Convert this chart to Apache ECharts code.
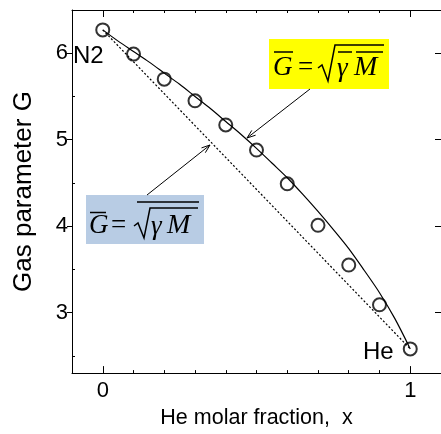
<!DOCTYPE html>
<html>
<head>
<meta charset="utf-8">
<script src="https://cdn.jsdelivr.net/npm/echarts@6/dist/echarts.min.js"></script>
<style>
html,body{margin:0;padding:0;background:#fff;}
#chart{width:441px;height:434px;}
</style>
</head>
<body>
<div id="chart"></div>
<script>
// ---- data ----
const molarFraction = [0, 0.1, 0.2, 0.3, 0.4, 0.5, 0.6, 0.7, 0.8, 0.9, 1.0];
const measuredG = [6.27, 5.99, 5.70, 5.45, 5.17, 4.88, 4.49, 4.01, 3.55, 3.09, 2.58];
const curveX = [0, 0.05, 0.1, 0.15, 0.2, 0.25, 0.3, 0.35, 0.4, 0.45, 0.5, 0.55, 0.6, 0.65, 0.7, 0.75, 0.8, 0.85, 0.9, 0.95, 1.0];
const curveG = [6.27, 6.14, 6.02, 5.90, 5.77, 5.64, 5.50, 5.36, 5.21, 5.06, 4.90, 4.73, 4.56, 4.37, 4.17, 3.96, 3.74, 3.49, 3.23, 2.93, 2.58];
const linearX = [0, 1];
const linearG = [6.27, 2.58];
const xTickMajor = [0, 1];
const xTickMinor = [0.1, 0.2, 0.3, 0.4, 0.5, 0.6, 0.7, 0.8, 0.9];
const yTickMajor = [3, 4, 5, 6];
const yTickMinor = [2.5, 3.5, 4.5, 5.5];

const FONT = '"Liberation Sans", Arial, sans-serif';
const SERIF = '"Liberation Serif", "Times New Roman", serif';
const zip = (a, b) => a.map((v, i) => [v, b[i]]);

const X_MIN = -0.1, X_MAX = 1.1, Y_MIN = 2.3, Y_MAX = 6.5;

function xAx(pos, vals, len, withLine, extra) {
  return Object.assign({
    type: 'value', position: pos, min: X_MIN, max: X_MAX,
    axisLine: {show: withLine, onZero: false, lineStyle: {color: '#000', width: 1}},
    axisTick: {show: true, inside: true, length: len, customValues: vals, lineStyle: {color: '#000', width: 1}},
    axisLabel: {show: false},
    splitLine: {show: false}
  }, extra || {});
}
function yAx(pos, vals, len, inside, withLine, extra) {
  return Object.assign({
    type: 'value', position: pos, min: Y_MIN, max: Y_MAX,
    axisLine: {show: withLine, onZero: false, lineStyle: {color: '#000', width: 1}},
    axisTick: {show: true, inside: inside, length: len, customValues: vals, lineStyle: {color: '#000', width: 1}},
    axisLabel: {show: false},
    splitLine: {show: false}
  }, extra || {});
}

const chart = echarts.init(document.getElementById('chart'), null, {renderer: 'canvas'});

const txt = (t, x, y, size, opts) => ({
  type: 'text', z: 100,
  style: Object.assign({text: t, x: x, y: y, fill: '#000', fontSize: size, fontFamily: FONT,
    align: 'left', verticalAlign: 'middle'}, opts || {})
});
const ln = (x1, y1, x2, y2, w) => ({
  type: 'line', z: 100, shape: {x1: x1, y1: y1, x2: x2, y2: y2},
  style: {stroke: '#000', lineWidth: w || 1.2}
});
const pl = (pts, w) => ({
  type: 'polyline', z: 100, shape: {points: pts},
  style: {stroke: '#000', lineWidth: w || 1.2, fill: null}
});

const option = {
  animation: false,
  backgroundColor: '#fff',
  grid: {left: 72, top: 10, width: 374, height: 373, containLabel: false},
  xAxis: [
    xAx('bottom', xTickMajor, 7, true, {
      axisLabel: {show: true, customValues: xTickMajor, fontSize: 22, color: '#000', fontFamily: FONT, margin: 7},
      name: 'He molar fraction,  x', nameLocation: 'middle', nameGap: 31,
      nameTextStyle: {fontSize: 21.5, color: '#000', fontFamily: FONT}
    }),
    xAx('bottom', xTickMinor, 3, false),
    xAx('top', xTickMajor, 7, true),
    xAx('top', xTickMinor, 3, false)
  ],
  yAxis: [
    yAx('left', yTickMajor, 5, false, true, {
      axisLabel: {show: true, customValues: yTickMajor, fontSize: 22, color: '#000', fontFamily: FONT, margin: 4},
      name: 'Gas parameter G', nameLocation: 'middle', nameGap: 35,
      nameTextStyle: {fontSize: 26, color: '#000', fontFamily: FONT}
    }),
    yAx('left', yTickMinor, 3, true, false),
    yAx('right', yTickMajor, 6, true, true)
  ],
  series: [
    {
      type: 'line', name: 'linear', data: zip(linearX, linearG), showSymbol: false, symbol: 'none',
      lineStyle: {color: '#000', width: 1.2, type: [2, 2]}, z: 2
    },
    {
      type: 'line', name: 'model', data: zip(curveX, curveG), showSymbol: false, symbol: 'none', smooth: 0.3,
      lineStyle: {color: '#000', width: 1.2}, z: 2
    },
    {
      type: 'scatter', name: 'measured', data: zip(molarFraction, measuredG), symbol: 'circle', symbolSize: 13,
      itemStyle: {color: 'rgba(0,0,0,0)', borderColor: '#000', borderWidth: 2}, z: 3
    }
  ],
  graphic: {
    elements: [
      // point labels
      txt('N2', 73, 56, 24),
      txt('He', 363, 352, 24),
      // yellow formula box
      {type: 'rect', z: 90, shape: {x: 269, y: 39, width: 120, height: 50}, style: {fill: '#ffff00'}},
      txt('G', 273, 68, 27, {fontFamily: SERIF, fontStyle: 'italic'}),
      ln(274, 52, 293, 52, 1.5),
      txt('=', 298, 68, 27, {fontFamily: SERIF}),
      pl([[318, 68], [322, 65], [328, 81], [335, 45], [384, 45]], 1.5),
      txt('\u03b3', 337, 69, 27, {fontFamily: SERIF, fontStyle: 'italic'}),
      txt('M', 354, 68, 28, {fontFamily: SERIF, fontStyle: 'italic'}),
      ln(338, 52, 352, 52, 1.5),
      ln(356, 52, 383, 52, 1.5),
      // blue formula box
      {type: 'rect', z: 90, shape: {x: 86, y: 195, width: 118, height: 49}, style: {fill: '#b8cce4'}},
      txt('G', 89, 226, 27, {fontFamily: SERIF, fontStyle: 'italic'}),
      ln(90, 212.5, 106, 212.5, 1.5),
      txt('=', 111, 226, 27, {fontFamily: SERIF}),
      pl([[134, 226], [138, 223], [144, 238], [150, 208], [198, 208]], 1.5),
      ln(137, 202, 199, 202, 1.5),
      txt('\u03b3', 151, 227, 27, {fontFamily: SERIF, fontStyle: 'italic'}),
      txt('M', 167, 226, 28, {fontFamily: SERIF, fontStyle: 'italic'}),
      // arrows
      ln(310, 89, 247, 138, 1),
      pl([[255.6, 135.2], [247, 138], [251.8, 130.4]], 1),
      ln(147, 195, 210, 145, 1),
      pl([[201.5, 147.9], [210, 145], [205.3, 152.7]], 1)
    ]
  }
};
chart.setOption(option);
</script>
</body>
</html>
